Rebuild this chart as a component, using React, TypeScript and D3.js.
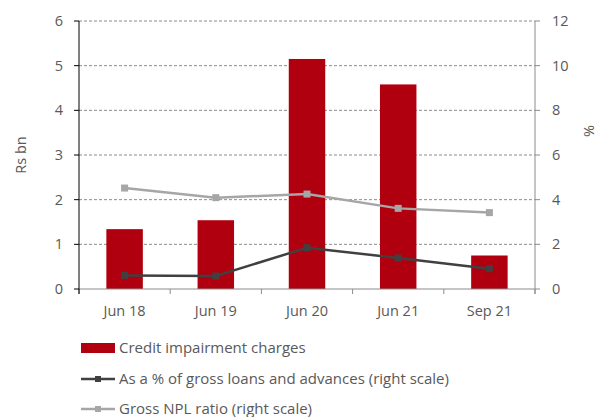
import React from "react";
import * as d3 from "d3";

const categories = ["Jun 18", "Jun 19", "Jun 20", "Jun 21", "Sep 21"];
const impairment = [1.34, 1.54, 5.15, 4.58, 0.75];
const pctLoans = [0.61, 0.58, 1.85, 1.39, 0.91];
const npl = [4.52, 4.09, 4.25, 3.61, 3.42];
const leftTicks = [0, 1, 2, 3, 4, 5, 6];
const rightTicks = [0, 2, 4, 6, 8, 10, 12];

const W = 598;
const H = 417;
const left = 79;
const right = 535;
const top = 21;
const bottom = 289;

const font = "'Open Sans', sans-serif";
const txt = "#595959";
const fs = 14.5;

function App() {
  const x = d3.scaleBand().domain(categories).range([left, right]).paddingInner(0.6).paddingOuter(0.3);
  const xc = (c: string) => (x(c) as number) + x.bandwidth() / 2;
  const bandW = (right - left) / categories.length;
  const yL = d3.scaleLinear().domain([0, 6]).range([bottom, top]);
  const yR = d3.scaleLinear().domain([0, 12]).range([bottom, top]);

  const line = d3
    .line<number>()
    .x((_, i) => xc(categories[i]))
    .y((d) => yR(d));

  return (
    <svg width={W} height={H} style={{ position: "absolute", left: 0, top: 0 }} fontFamily={font}>
      {leftTicks.slice(1).map((t) => (
        <line key={t} x1={left} x2={right} y1={yL(t)} y2={yL(t)} stroke="#8c8c8c" strokeWidth={1} strokeDasharray="3,2" />
      ))}
      {categories.map((c, i) => (
        <rect key={c} x={x(c)} y={yL(impairment[i])} width={x.bandwidth()} height={bottom - yL(impairment[i])} fill="#b0000f" />
      ))}
      {/* axes */}
      <line x1={left} x2={right} y1={bottom} y2={bottom} stroke="#8c8c8c" strokeWidth={1.2} />
      {d3.range(categories.length + 1).map((i) => (
        <line key={i} x1={left + i * bandW} x2={left + i * bandW} y1={bottom} y2={bottom + 5} stroke="#8c8c8c" />
      ))}
      <line x1={left} x2={left} y1={top} y2={bottom + 5} stroke="#000" strokeWidth={1} />
      {leftTicks.map((t) => (
        <g key={t}>
          <line x1={left - 5} x2={left} y1={yL(t)} y2={yL(t)} stroke="#000" />
          <text x={63} y={yL(t)} dy="0.35em" textAnchor="end" fontSize={fs} fill={txt}>
            {t}
          </text>
        </g>
      ))}
      <line x1={right} x2={right} y1={top} y2={bottom + 5} stroke="#8c8c8c" strokeWidth={1} />
      {rightTicks.map((t) => (
        <g key={t}>
          <line x1={right} x2={right + 5} y1={yR(t)} y2={yR(t)} stroke="#8c8c8c" />
          <text x={552} y={yR(t)} dy="0.35em" textAnchor="start" fontSize={fs} fill={txt}>
            {t}
          </text>
        </g>
      ))}
      {categories.map((c) => (
        <text key={c} x={xc(c)} y={311} dy="0.35em" textAnchor="middle" fontSize={fs} fill={txt}>
          {c}
        </text>
      ))}
      <text transform={`translate(21,155) rotate(-90)`} textAnchor="middle" dy="0.35em" fontSize={fs} fill={txt}>
        Rs bn
      </text>
      <text transform={`translate(589,131) rotate(90)`} textAnchor="middle" dy="0.35em" fontSize={fs} fill={txt}>
        %
      </text>
      {/* lines */}
      <path d={line(npl) ?? ""} fill="none" stroke="#a6a6a6" strokeWidth={2.5} />
      {npl.map((v, i) => (
        <rect key={i} x={xc(categories[i]) - 3.5} y={yR(v) - 3.5} width={7} height={7} fill="#a6a6a6" />
      ))}
      <path d={line(pctLoans) ?? ""} fill="none" stroke="#404040" strokeWidth={2.5} />
      {pctLoans.map((v, i) => (
        <rect key={i} x={xc(categories[i]) - 3.5} y={yR(v) - 3.5} width={7} height={7} fill="#404040" />
      ))}
      {/* legend */}
      <rect x={81} y={343} width={34} height={10} fill="#b0000f" />
      <text x={119} y={348} dy="0.35em" fontSize={15} fill={txt}>
        Credit impairment charges
      </text>
      <line x1={81} x2={115} y1={379} y2={379} stroke="#404040" strokeWidth={2.5} />
      <rect x={95} y={376} width={6} height={6} fill="#404040" />
      <text x={119} y={379} dy="0.35em" fontSize={15} fill={txt}>
        As a % of gross loans and advances (right scale)
      </text>
      <line x1={81} x2={115} y1={409} y2={409} stroke="#a6a6a6" strokeWidth={2.5} />
      <rect x={95} y={406} width={6} height={6} fill="#a6a6a6" />
      <text x={119} y={409} dy="0.35em" fontSize={15} fill={txt}>
        Gross NPL ratio (right scale)
      </text>
    </svg>
  );
}

export default App;
